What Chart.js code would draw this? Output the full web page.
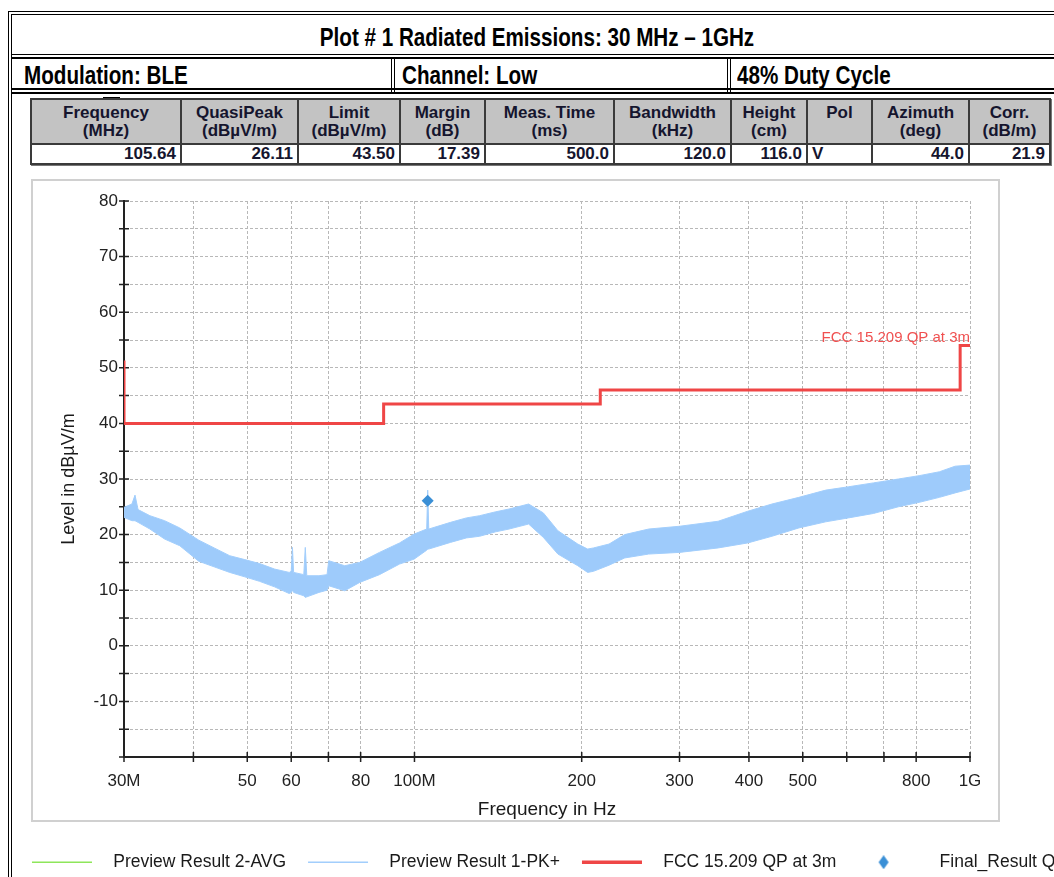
<!DOCTYPE html>
<html><head><meta charset="utf-8">
<script src="https://cdn.jsdelivr.net/npm/chart.js@4.4.1/dist/chart.umd.min.js"></script>
<style>
html,body{margin:0;padding:0;width:1054px;height:877px;overflow:hidden;background:#fff;font-family:"Liberation Sans",Arial,sans-serif}
.ln{position:absolute;background:#000}
.hd{position:absolute;font-family:"Liberation Sans",Arial,sans-serif;font-weight:bold;color:#000;font-size:25px;white-space:nowrap;transform:scaleX(0.825);transform-origin:0 50%}
.hd.c{transform-origin:50% 50%}
#tbl{position:absolute;left:30px;top:98px;border-collapse:collapse;font-weight:bold;font-size:17px;color:#15152e;box-shadow:1px 1px 0 #777}
#tbl td{border:2px solid #3a3a3a;padding:0 4px;line-height:18px;white-space:nowrap}
#tbl tr.h td{background:#c3c3c3;text-align:center;height:43px}
#tbl tr.v td{background:#fff;text-align:right;height:15px}
#frame{position:absolute;left:31px;top:179px;width:965px;height:639px;border:2px solid #d0d0d0;background:#fff}
#cv{position:absolute;left:10px;top:181px}
</style></head><body>
<div class="ln" style="left:8px;top:11px;width:1060px;height:1.3px"></div>
<div class="ln" style="left:11px;top:13.7px;width:1060px;height:1.3px"></div>
<div class="ln" style="left:8px;top:11px;width:1.3px;height:870px"></div>
<div class="ln" style="left:11px;top:13.7px;width:1.3px;height:870px"></div>
<div class="ln" style="left:11px;top:53.5px;width:1060px;height:1.6px"></div>
<div class="ln" style="left:11px;top:57.3px;width:1060px;height:1.6px"></div>
<div class="ln" style="left:11px;top:88.3px;width:1060px;height:1.6px"></div>
<div class="ln" style="left:11px;top:92px;width:1060px;height:1.6px"></div>
<div class="ln" style="left:390.7px;top:57.3px;width:1.4px;height:36px"></div>
<div class="ln" style="left:393.8px;top:57.3px;width:1.4px;height:36px"></div>
<div class="ln" style="left:726.8px;top:57.3px;width:1.4px;height:36px"></div>
<div class="ln" style="left:730px;top:57.3px;width:1.4px;height:36px"></div>
<div class="ln" style="left:103px;top:96.5px;width:17px;height:2.5px"></div>
<div class="hd c" style="left:12px;width:1050px;top:18px;height:38px;line-height:38px;text-align:center">Plot # 1 Radiated Emissions: 30 MHz – 1GHz</div>
<div class="hd" style="left:24px;top:60px;height:29px;line-height:31px">Modulation: BLE</div>
<div class="hd" style="left:402px;top:60px;height:29px;line-height:31px">Channel: Low</div>
<div class="hd" style="left:737px;top:60px;height:29px;line-height:31px">48% Duty Cycle</div>
<table id="tbl"></table>
<div id="frame"></div>
<canvas id="cv" width="1200" height="700"></canvas>
<script>
// result table
const colWidths=[150,117,102,85,129,117,76,65,97,81];
const tableHeads=['Frequency','QuasiPeak','Limit','Margin','Meas. Time','Bandwidth','Height','Pol','Azimuth','Corr.'];
const tableUnits=['(MHz)','(dBµV/m)','(dBµV/m)','(dB)','(ms)','(kHz)','(cm)','&nbsp;','(deg)','(dB/m)'];
const tableValues=['105.64','26.11','43.50','17.39','500.0','120.0','116.0','V','44.0','21.9'];

// axes
const xTickValues=[30,40,50,60,70,80,100,200,300,400,500,600,700,800,1000];
const xTickLabels=['30M','','50','60','','80','100M','200','300','400','500','','','800','1G'];
const yLabelValues=[-10,0,10,20,30,40,50,60,70,80];

// Preview Result 1-PK+ : band (MHz, dBµV/m)
const traceFreq=[30,31.0,31.4,31.8,33.4,35.5,37.8,40.9,43.6,46.5,49.5,52.6,56.0,59.5,60.0,60.3,60.6,63.2,63.6,64.0,67.3,69.6,70.1,74.9,79.7,86.5,94.0,99.9,105.2,105.64,106.1,116.1,124,131,140,148,160.5,170.6,181.2,196.8,205,210,224,239,264,300,352,398,440,492,550,604,670,743,810,881,940,1000];
const traceHigh=[24.9,25.5,27.1,24.5,23.4,22.5,21.2,19.0,17.6,16.2,15.5,14.8,13.8,13.2,13.4,17.7,13.2,12.8,17.7,12.6,12.6,12.8,15.3,14.4,15.0,16.8,18.5,20.1,21.0,28.0,21.0,22.2,23.0,23.4,24.1,24.6,25.5,23.9,20.7,18.3,17.4,17.6,18.3,20.0,21.0,21.5,22.4,24.2,25.5,26.7,28.0,28.6,29.3,30.0,30.6,31.3,32.3,32.5];
const traceLow=[23.1,22.5,22.5,22.2,21.0,19.2,18.0,15.2,14.2,13.2,12.4,11.6,10.6,9.4,9.6,10.0,9.6,9.0,8.7,8.8,9.6,10.0,10.8,9.9,11.4,12.8,14.7,15.6,17.2,17.4,17.4,18.6,19.4,19.7,20.5,21.0,21.9,19.5,16.5,14.4,13.2,13.4,14.5,15.8,16.5,16.8,17.6,18.5,19.7,21.2,22.3,23.0,23.8,25.0,25.8,26.7,27.5,28.2];

// FCC 15.209 QP at 3m limit
const limitFreq=[30,30,88,88,216,216,960,960,1000];
const limitLevel=[51.3,40,40,43.5,43.5,46,46,54,54];

// Final_Result QPK
const finalFreq=[105.64];
const finalLevel=[26.11];

(function buildTable(){
  const t=document.getElementById('tbl');
  let h='<colgroup>'+colWidths.map(w=>`<col style="width:${w}px">`).join('')+'</colgroup>';
  h+='<tr class="h">'+tableHeads.map((s,i)=>`<td>${s}<br>${tableUnits[i]}</td>`).join('')+'</tr>';
  h+='<tr class="v">'+tableValues.map((s,i)=>`<td${tableHeads[i]==='Pol'?' style="text-align:left"':''}>${s}</td>`).join('')+'</tr>';
  t.innerHTML=h;t.style.width=colWidths.reduce((a,b)=>a+b,0)+'px';t.style.tableLayout='fixed';
})();

const pts=(xs,ys)=>xs.map((x,i)=>({x,y:ys[i]}));

// legend marker for the final result: diamond drawn left of the box centre
const diamondImg=document.createElement('canvas');
diamondImg.width=40;diamondImg.height=14;
(()=>{const c=diamondImg.getContext('2d');c.fillStyle='#3a8fd6';c.beginPath();c.moveTo(9,0);c.lineTo(14,7);c.lineTo(9,14);c.lineTo(4,7);c.closePath();c.fill();})();

const crossTicks={id:'crossTicks',beforeDatasetsDraw(chart){
  const {ctx,scales:{x,y},chartArea:a}=chart;
  ctx.save();ctx.strokeStyle='#222';ctx.lineWidth=1.5;ctx.beginPath();
  x.ticks.forEach(t=>{const p=x.getPixelForValue(t.value);ctx.moveTo(p,a.bottom-5);ctx.lineTo(p,a.bottom+5);});
  y.ticks.forEach(t=>{const p=y.getPixelForValue(t.value);ctx.moveTo(a.left-5,p);ctx.lineTo(a.left+5,p);});
  ctx.stroke();ctx.restore();
}};

const limitLabel={id:'limitLabel',afterDatasetsDraw(chart){
  const {ctx,scales:{x,y}}=chart;const n=limitFreq.length-1;
  ctx.save();ctx.font='15px "Liberation Sans", Arial';ctx.fillStyle='#f05050';ctx.textAlign='right';ctx.textBaseline='alphabetic';
  ctx.fillText('FCC 15.209 QP at 3m',x.getPixelForValue(limitFreq[n]),y.getPixelForValue(limitLevel[n])-4);
  ctx.restore();
}};

Chart.defaults.font.family='"Liberation Sans", Arial, sans-serif';
new Chart(document.getElementById('cv'),{
  type:'line',
  data:{datasets:[
    {label:'Preview Result 2-AVG',data:[],borderColor:'#8ee65a',borderWidth:1.5,pointRadius:0,legendWidth:1.5,order:3},
    {label:'',data:pts(traceFreq,traceLow),borderColor:'#a2cefc',borderWidth:1,pointRadius:0,fill:false,order:2},
    {label:'Preview Result 1-PK+',data:pts(traceFreq,traceHigh),borderColor:'#a2cefc',backgroundColor:'#9ecbfb',borderWidth:1,pointRadius:0,fill:'-1',legendWidth:1.5,order:2},
    {label:'FCC 15.209 QP at 3m',data:pts(limitFreq,limitLevel),borderColor:'#ef4646',borderWidth:3,pointRadius:0,legendWidth:3.5,order:1},
    {label:'Final_Result QPK',data:pts(finalFreq,finalLevel),showLine:false,pointStyle:'rectRot',pointRadius:6,backgroundColor:'#3a8fd6',borderColor:'#3a8fd6',borderWidth:0,order:0}
  ]},
  options:{
    responsive:false,animation:false,devicePixelRatio:1,events:[],
    layout:{padding:{top:20,left:0,right:0,bottom:0}},
    scales:{
      x:{type:'logarithmic',min:30,max:1000,
        afterBuildTicks:s=>{s.ticks=xTickValues.map(v=>({value:v}));},
        afterFit:s=>{s.height=74.5;},
        ticks:{autoSkip:false,maxRotation:0,padding:14,color:'#222',font:{size:17},callback:(v)=>{const i=xTickValues.indexOf(v);return i<0?'':xTickLabels[i];}},
        grid:{color:'#b8b8b8',lineWidth:1,drawTicks:false},
        border:{display:true,color:'#222',width:2,dash:[3,2]},
        title:{display:true,text:'Frequency in Hz',color:'#1a1a1a',font:{size:19},padding:{bottom:10,top:0}}},
      y:{min:-20,max:80,
        afterBuildTicks:s=>{const t=[];for(let v=-20;v<=80;v+=5)t.push({value:v});s.ticks=t;},
        afterFit:s=>{s.width=114;},
        ticks:{autoSkip:false,padding:6,color:'#222',font:{size:17},callback:v=>yLabelValues.includes(v)?String(v):''},
        grid:{color:'#b8b8b8',lineWidth:1,drawTicks:false},
        border:{display:true,color:'#222',width:2,dash:[3,2]},
        title:{display:true,text:'Level in dBµV/m',color:'#1a1a1a',font:{size:18},padding:{top:48,bottom:0}}},
      yr:{position:'right',min:0,max:1,display:true,grid:{display:false,drawTicks:false},border:{display:false},ticks:{display:false},afterFit:s=>{s.width=240;}}
    },
    plugins:{
      tooltip:{enabled:false},
      legend:{position:'bottom',align:'start',
        labels:{usePointStyle:true,pointStyleWidth:72.5,padding:22,color:'#1a1a1a',font:{size:17.5},
          generateLabels:chart=>chart.data.datasets.map((ds,i)=>({
            text:ds.label,datasetIndex:i,hidden:false,fontColor:'#1a1a1a',
            pointStyle:ds.pointStyle==='rectRot'?diamondImg:'line',
            strokeStyle:ds.borderColor,fillStyle:ds.borderColor,lineWidth:ds.legendWidth||1,
            lineDash:[60,12.5],lineDashOffset:0,rotation:0
          })).filter(it=>it.text)}}
    }
  },
  plugins:[crossTicks,limitLabel]
});
</script>
</body></html>
